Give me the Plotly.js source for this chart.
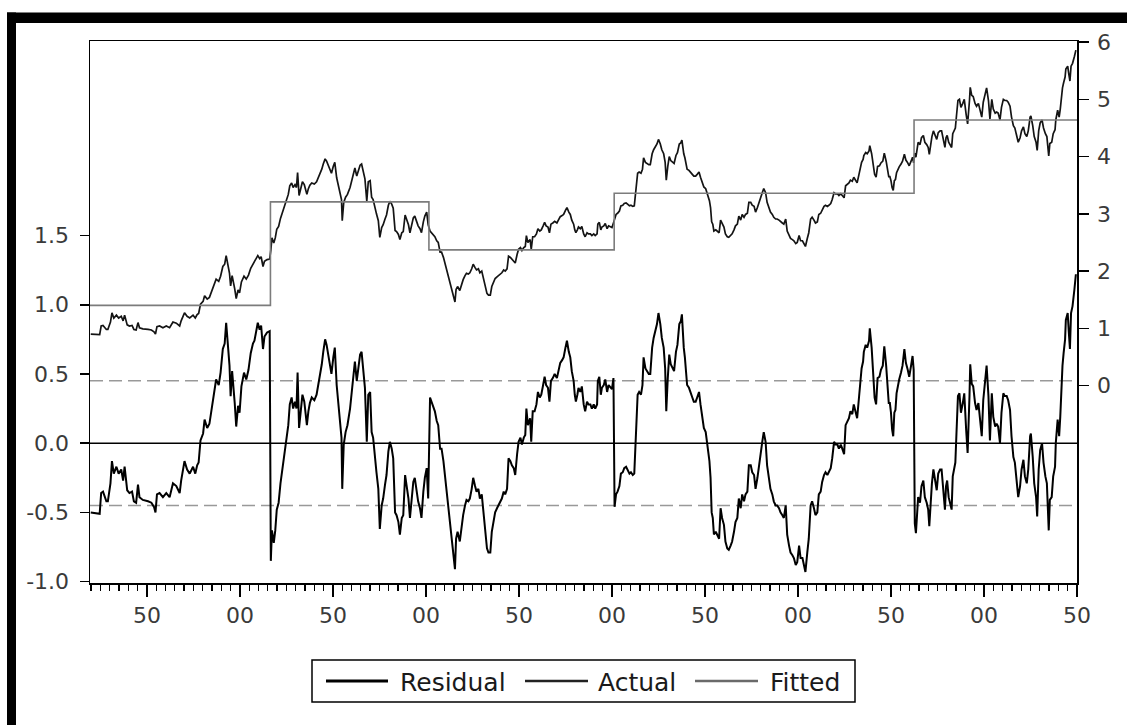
<!DOCTYPE html>
<html><head><meta charset="utf-8">
<script src="https://cdn.plot.ly/plotly-3.0.1.min.js"></script>
<style>html,body{margin:0;padding:0;background:#fff;}#chart{width:1127px;height:725px;}</style>
</head><body><div id="chart"></div>
<script>
const obs = [
99,123,127,132,141,145,152,156,161,168,174,181,186,190,197,203,210,215,221,226,230,239,253,262,269,273,277,284,293,302,
311,320,329,338,342,351,358,365,374,380,385,389,394,401,405,412,418,425,430,436,443,448,454,459,463,468,472,475,479,486,
490,495,499,504,511,517,523,529,535,539,544,548,553,557,562,566,573,580,
583,586,591,595,599,604,609,616,622,630,634,639,643,648,652,655,659,664,668,673,677,680,684,688,693,700,706,711,715,720,
724,729,733,738,742,746,751,755,760,764,769,773,775,779,784,789,796,800,805,809,814,818,823,827,832,836,841,845,850,854,
858,863,867,872,876,881,885,890,894,899,903,908,912,917,921,926,930,935,939,944,948,953,957,962,966,970,975,979,984,988,
993,997,1002,1006,
1011,1015,1020,1024,1029,1033,1038,1042,1047,1051,1056,1060,1065,1069,1074,1078,1081,1085,1091,1096,1100,1105,1109,1114,1118,
1123,1127,1132,1136,1141,1145,1150,1155,1160,1164,1168,1173,1177,1182,1186,1191,1195,1200,1204,1209,1213,1218,1222,1227,1231,
1236,1240,1245,1249,1254,1258,1263,1267,1270,1274,1280,1283,1287,1292,1297,1301,1306,1310,1315,1319,1323,1328,1332,1336,1341,
1346,1352,1357,1361,1366,1370,1375,1379,1384,1388,1392,1397,1400,1403,1407,1410,1415,1419,1424,1428,1433,1437,1442,1446,1451,
1455,1460,1462,1466,1470,1473,1478,1482,1487,1491,1496,1500,1504,
1507,1511,1515,1520,1524,1529,1533,1538,1542,1547,1551,1556,1560,1563,1565,1569,1573,1578,1582,1585,1590,1594,1599,1603,1608,
1612,1616,1621,1625,1630,1634,1639,1643,1646,1650,1654,1658,1663,1667,1672,1676,1681,1685,1688,1691,1693,1696,1700,1702,1707,
1711,1716,1720,1725,1729,1734,1738,1743,1747,1752,1756,1759,1762,1765,1768,1771,1774,1779,1783,1788,1792,1796,1801,1805,1810,
1814,1819,1823,1828,1832,1837,1841,1846,1850,1855,1859,1864,1868,1873,1877,1882,1886,1891,1895,1900,1904,1908,1913,1917,1922,
1926,1931,1935,1940,1944,1949,1953,1958,1962,1967,1971,1976,1980,1985,1989,1994,1998,2003,2007,2012,2016,2020,2025,2029,2034,
2038,2043,2047,2052,2056,2061,2065,2070,2074,2079,2083,2088,2092,2097,2101,2106,2110,2115,2119,2124,2128,2133,2137,2141,2146,
2150,2155,2159,2164,2168,2171,2175,2177,2182,2186,2191,2193,2198,2201,2206,2210,2214,2219,2223,2228,2232,2237,2241,2244,2247,
2250,2253,2256,2259,2262,2265,2268,2272,2277,2281,2286,2290,2295,2299,2304,2308,2311,
2314,2317,2320,2323,2328,2332,2337,2341,2346,2350,2353,2356,2360,2364,2368,2373,2377,2382,2386,2391,2395,2398,2401,2405,2408,
2413,2416,2419,2423,2426,2430,2434,2438,2443,2447,2452,2456,2461,2463,2467,2471,2476,2480,2485,2489,2494,2498,2503,2507,2512,
2516,2521,2525,2530,2534,2538,2543,2547,2552,2556,2561,2565,2570,2574,2579,2583,2588,2592,2597,2601,2606,2610,2615,2619,2624,
2626,2631,2635,2640,2643,2647,2651,2656,2660,2665,2669,2674,2677,2682,2686,2691,2693,2698,2702,2705,2708,2711,2714,2718,2720,
2725,2728,2731,2734,2738,2743,2745,2747
];
const residual = [
-0.50,-0.51,-0.36,-0.35,-0.42,-0.42,-0.29,-0.13,-0.22,-0.17,-0.22,-0.19,-0.27,-0.17,-0.34,-0.36,-0.35,-0.42,-0.43,-0.30,-0.39,-0.41,-0.42,-0.43,-0.46,-0.50,-0.37,-0.36,-0.39,-0.36,
-0.39,-0.29,-0.31,-0.36,-0.27,-0.13,-0.19,-0.22,-0.17,-0.22,-0.16,-0.14,0.02,0.07,0.17,0.11,0.14,0.27,0.36,0.46,0.42,0.51,0.68,0.72,0.87,0.70,0.56,0.34,0.52,0.29,
0.12,0.27,0.22,0.41,0.51,0.46,0.53,0.65,0.72,0.74,0.80,0.87,0.82,0.85,0.68,0.77,0.80,0.81,
-0.85,-0.63,-0.72,-0.63,-0.48,-0.43,-0.29,-0.14,-0.02,0.13,0.28,0.33,0.25,0.30,0.25,0.51,0.11,0.28,0.35,0.30,0.21,0.13,0.23,0.29,0.33,0.31,0.35,0.43,0.48,0.57,
0.66,0.75,0.71,0.62,0.54,0.50,0.62,0.69,0.42,0.30,0.16,0.04,-0.33,-0.01,0.08,0.13,0.25,0.37,0.52,0.59,0.45,0.52,0.64,0.66,0.52,0.40,0.01,0.35,0.37,0.08,
0.04,-0.13,-0.21,-0.33,-0.62,-0.45,-0.40,-0.30,-0.23,-0.06,0.01,-0.04,-0.11,-0.50,-0.52,-0.57,-0.66,-0.54,-0.52,-0.23,-0.30,-0.40,-0.54,-0.42,-0.28,-0.25,-0.35,-0.42,-0.47,-0.54,
-0.35,-0.25,-0.18,-0.40,
0.33,0.30,0.25,0.23,0.16,0.13,-0.04,-0.04,-0.13,-0.23,-0.35,-0.45,-0.57,-0.69,-0.79,-0.91,-0.69,-0.64,-0.71,-0.59,-0.52,-0.45,-0.41,-0.42,-0.40,
-0.33,-0.25,-0.31,-0.35,-0.33,-0.40,-0.37,-0.50,-0.64,-0.76,-0.79,-0.79,-0.64,-0.57,-0.50,-0.47,-0.45,-0.42,-0.40,-0.35,-0.37,-0.33,-0.11,-0.13,-0.16,
-0.18,-0.23,-0.08,0.01,0.04,-0.01,0.04,0.06,0.25,0.13,0.18,0.01,0.23,0.23,0.28,0.37,0.33,0.35,0.42,0.48,0.42,0.40,0.30,0.45,0.47,
0.50,0.47,0.54,0.58,0.60,0.62,0.69,0.74,0.66,0.62,0.52,0.45,0.35,0.30,0.35,0.40,0.37,0.41,0.28,0.23,0.30,0.28,0.28,0.25,0.28,
0.25,0.28,0.45,0.48,0.35,0.40,0.42,0.46,0.37,0.42,0.40,0.39,0.47,
-0.46,-0.37,-0.35,-0.31,-0.22,-0.21,-0.18,-0.17,-0.19,-0.22,-0.21,-0.23,-0.22,0.01,0.11,0.35,0.37,0.35,0.42,0.62,0.54,0.52,0.50,0.50,0.69,
0.76,0.81,0.86,0.94,0.86,0.76,0.69,0.54,0.23,0.47,0.64,0.57,0.54,0.52,0.66,0.71,0.86,0.88,0.93,0.76,0.69,0.62,0.52,0.42,0.40,
0.36,0.33,0.30,0.30,0.33,0.37,0.28,0.18,0.11,0.08,-0.01,-0.06,-0.13,-0.25,-0.50,-0.54,-0.66,-0.64,-0.66,-0.69,-0.47,-0.54,-0.59,-0.71,-0.76,
-0.77,-0.74,-0.71,-0.64,-0.57,-0.54,-0.40,-0.47,-0.37,-0.42,-0.37,-0.35,-0.16,-0.16,-0.21,-0.23,-0.33,-0.25,-0.16,-0.06,0.01,0.08,0.01,-0.16,-0.28,
-0.33,-0.37,-0.42,-0.45,-0.45,-0.47,-0.50,-0.52,-0.54,-0.45,-0.66,-0.74,-0.79,-0.81,-0.83,-0.88,-0.86,-0.74,-0.83,-0.83,-0.88,-0.93,-0.79,-0.69,-0.45,
-0.42,-0.47,-0.52,-0.50,-0.37,-0.35,-0.28,-0.23,-0.21,-0.23,-0.21,-0.18,-0.11,0.01,-0.01,-0.01,-0.04,-0.01,-0.04,-0.08,0.13,0.16,0.18,0.23,0.21,
0.28,0.21,0.18,0.33,0.47,0.54,0.59,0.66,0.71,0.69,0.74,0.83,0.69,0.52,0.33,0.28,0.47,0.48,0.53,0.56,0.70,0.56,0.43,0.29,0.29,
0.22,0.10,0.05,0.22,0.24,0.36,0.41,0.46,0.51,0.56,0.68,0.58,0.53,0.48,0.56,0.63,0.53,
-0.58,-0.65,-0.51,-0.39,-0.43,-0.31,-0.27,-0.39,-0.43,-0.48,-0.60,-0.43,-0.29,-0.19,-0.27,-0.34,-0.22,-0.19,-0.19,-0.34,-0.48,-0.31,-0.27,-0.39,-0.43,
-0.48,-0.24,-0.19,-0.14,0.07,0.34,0.36,0.22,0.29,0.36,0.10,-0.07,0.34,0.57,0.43,0.41,0.29,0.24,0.29,0.19,0.05,0.31,0.43,0.56,0.34,
0.02,0.36,0.19,0.12,0.14,0.12,0.00,0.22,0.36,0.34,0.34,0.31,0.24,0.05,-0.10,-0.14,-0.29,-0.39,-0.31,-0.19,-0.12,-0.24,-0.29,-0.19,0.05,
0.07,-0.10,-0.29,-0.39,-0.53,-0.19,-0.05,0.00,-0.14,-0.24,-0.29,-0.63,-0.41,-0.39,-0.24,-0.17,0.00,0.17,0.05,0.19,0.43,0.56,0.65,0.75,0.89,
0.94,0.80,0.68,0.94,0.99,1.11,1.18,1.22
];
// Fitted values: a step series (start observation of each regime and its level)
const fittedStarts = [97, 582, 1008, 1506, 2312];
const fittedLevels = [1.40, 3.21, 2.37, 3.36, 4.64];
const obsEnd = 2750;
const residualSE = 0.45;

const xTickVals = [250, 500, 750, 1000, 1250, 1500, 1750, 2000, 2250, 2500, 2750];
const xTickText = ["50", "00", "50", "00", "50", "00", "50", "00", "50", "00", "50"];
const leftTickVals = [-1.0, -0.5, 0.0, 0.5, 1.0, 1.5];
const leftTickText = ["-1.0", "-0.5", "0.0", "0.5", "1.0", "1.5"];
const rightTickVals = [0, 1, 2, 3, 4, 5, 6];
const seriesNames = ["Residual", "Actual", "Fitted"];

function fittedAt(t) {
  let v = fittedLevels[0];
  for (let i = 0; i < fittedStarts.length; i++) if (t >= fittedStarts[i]) v = fittedLevels[i];
  return v;
}
const actual = obs.map((t, i) => +(fittedAt(t) + residual[i]).toFixed(3));
const fittedX = fittedStarts.concat([obsEnd]);
const fittedY = fittedLevels.concat([fittedLevels[fittedLevels.length - 1]]);

const minorTicks = [];
for (let v = 100; v <= obsEnd; v += 25) if (v % 250 !== 0) minorTicks.push(v);

const colors = { Residual: '#000000', Actual: '#141414', Fitted: '#7c7c7c' };

const traces = [
  { x: obs, y: residual, name: seriesNames[0], type: 'scatter', mode: 'lines', yaxis: 'y',
    line: { color: colors.Residual, width: 2 } },
  { x: obs, y: actual, name: seriesNames[1], type: 'scatter', mode: 'lines', yaxis: 'y2',
    line: { color: colors.Actual, width: 1.7 } },
  { x: fittedX, y: fittedY, name: seriesNames[2], type: 'scatter', mode: 'lines', yaxis: 'y2',
    line: { color: colors.Fitted, width: 1.6, shape: 'hv' } }
];

// pixel -> paper helpers for decoration placement
const L = 90, R = 50, T = 41, B = 142, W = 1127, H = 725;
const pw = W - L - R, ph = H - T - B;
const px = v => (v - L) / pw;
const py = v => (H - B - v) / ph;

const shapes = [
  { type: 'line', xref: 'paper', yref: 'y', x0: 0, x1: 1, y0: 0, y1: 0, line: { color: '#000', width: 1.5 }, layer: 'below' },
  { type: 'line', xref: 'paper', yref: 'y', x0: 0, x1: 1, y0: residualSE, y1: residualSE, line: { color: '#999', width: 1.5, dash: '13px,6px' }, layer: 'below' },
  { type: 'line', xref: 'paper', yref: 'y', x0: 0, x1: 1, y0: -residualSE, y1: -residualSE, line: { color: '#999', width: 1.5, dash: '13px,6px' }, layer: 'below' },
  // frame bars
  { type: 'rect', xref: 'paper', yref: 'paper', x0: px(7), x1: px(1140), y0: py(23), y1: py(12.5), fillcolor: '#000', line: { width: 0 } },
  { type: 'rect', xref: 'paper', yref: 'paper', x0: px(7), x1: px(16), y0: py(740), y1: py(12.5), fillcolor: '#000', line: { width: 0 } },
  // legend box
  { type: 'rect', xref: 'paper', yref: 'paper', x0: px(312), x1: px(855), y0: py(702), y1: py(660), fillcolor: 'rgba(0,0,0,0)', line: { color: '#000', width: 1.5 } },
  { type: 'line', xref: 'paper', yref: 'paper', x0: px(326), x1: px(388), y0: py(681), y1: py(681), line: { color: colors.Residual, width: 3 } },
  { type: 'line', xref: 'paper', yref: 'paper', x0: px(525), x1: px(588), y0: py(681), y1: py(681), line: { color: '#222', width: 2.5 } },
  { type: 'line', xref: 'paper', yref: 'paper', x0: px(695), x1: px(758), y0: py(681), y1: py(681), line: { color: '#6a6a6a', width: 2.5 } }
];

const legendFont = { family: 'DejaVu Sans, sans-serif', size: 25, color: '#1a1a1a' };
const annotations = [
  { xref: 'paper', yref: 'paper', x: px(398), y: py(682), xanchor: 'left', yanchor: 'middle', text: seriesNames[0], showarrow: false, font: legendFont },
  { xref: 'paper', yref: 'paper', x: px(596), y: py(682), xanchor: 'left', yanchor: 'middle', text: seriesNames[1], showarrow: false, font: legendFont },
  { xref: 'paper', yref: 'paper', x: px(768), y: py(682), xanchor: 'left', yanchor: 'middle', text: seriesNames[2], showarrow: false, font: legendFont }
];

const tickFont = { family: 'DejaVu Sans, sans-serif', size: 22, color: '#3a3a3a' };

const layout = {
  width: W, height: H,
  margin: { l: L, r: R, t: T, b: B, pad: 0 },
  paper_bgcolor: '#fff', plot_bgcolor: '#fff',
  showlegend: false,
  font: tickFont,
  xaxis: {
    range: [97, obsEnd], tickmode: 'array', tickvals: xTickVals, ticktext: xTickText,
    ticks: 'outside', ticklen: 12, tickwidth: 1.6, tickcolor: '#000',
    showline: true, linecolor: '#000', linewidth: 1.5, mirror: true,
    showgrid: false, zeroline: false, tickfont: tickFont, ticklabelstandoff: 0,
    minor: { tickmode: 'array', tickvals: minorTicks, ticks: 'outside', ticklen: 6, tickwidth: 1.3, tickcolor: '#000', showgrid: false }
  },
  yaxis: {
    range: [-1.01, 2.905], tickmode: 'array', tickvals: leftTickVals, ticktext: leftTickText,
    ticks: 'outside', ticklen: 9, tickwidth: 1.6, tickcolor: '#000',
    showline: true, linecolor: '#000', linewidth: 1.5, mirror: true,
    showgrid: false, zeroline: false, tickfont: tickFont, ticklabelstandoff: 6
  },
  yaxis2: {
    range: [-3.45, 6.02], overlaying: 'y', side: 'right', anchor: 'x',
    tickmode: 'array', tickvals: rightTickVals,
    ticks: 'outside', ticklen: 10, tickwidth: 1.6, tickcolor: '#000',
    showline: true, linecolor: '#000', linewidth: 1.5,
    showgrid: false, zeroline: false, tickfont: tickFont, ticklabelstandoff: 4
  },
  shapes: shapes,
  annotations: annotations
};

Plotly.newPlot('chart', traces, layout, { staticPlot: true, displayModeBar: false });
</script>
</body></html>
